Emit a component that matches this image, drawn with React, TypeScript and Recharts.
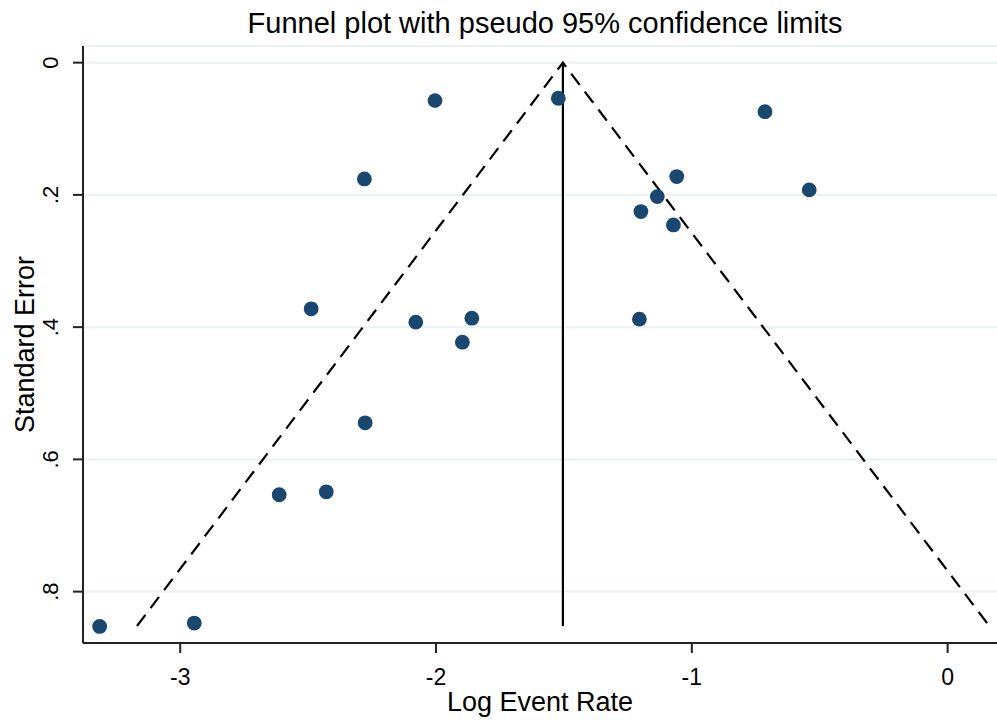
import React from "react";
import {
  ScatterChart,
  Scatter,
  XAxis,
  YAxis,
  CartesianGrid,
  Label,
} from "recharts";

// study estimates: log event rate vs standard error
const logRate = [
  -3.315, -2.945, -2.613, -2.429, -2.277, -2.488, -2.28, -2.004, -1.522, -2.079,
  -1.86, -1.897, -1.205, -1.199, -1.135, -1.072, -1.059, -0.714, -0.541,
];
const stdErr = [
  0.8526, 0.8475, 0.6535, 0.649, 0.5447, 0.3723, 0.1758, 0.0574, 0.0538, 0.3924,
  0.3864, 0.4227, 0.3879, 0.2252, 0.2026, 0.2454, 0.1723, 0.0741, 0.1924,
];

// pooled estimate and pseudo 95% limits at max SE
const pooled = -1.504;
const maxSe = 0.852;
const lowerLimit = -3.169;
const upperLimit = 0.163;

const xTicks = [-3, -2, -1, 0];
const yTicks = [0, 0.2, 0.4, 0.6, 0.8];

const studies = logRate.map((x, i) => ({ x, y: stdErr[i] }));
const pooledLine = [
  { x: pooled, y: 0 },
  { x: pooled, y: maxSe },
];
const funnelLine = [
  { x: lowerLimit, y: maxSe },
  { x: pooled, y: 0 },
  { x: upperLimit, y: maxSe },
];

const FONT = "'Liberation Sans', Arial, sans-serif";

const fmtY = (v: number) => (v === 0 ? "0" : String(v).replace(/^0/, ""));

const YTick = (props: any) => {
  const { x, y, payload } = props;
  return (
    <text
      x={x}
      y={y}
      transform={`rotate(-90 ${x} ${y})`}
      textAnchor="middle"
      fontSize={22}
      fontFamily={FONT}
      fill="#000"
    >
      {fmtY(payload.value)}
    </text>
  );
};

const noDot = () => <g />;

export default function App() {
  return (
    <div style={{ position: "absolute", left: 0, top: 0, background: "#fff" }}>
      <div
        style={{
          position: "absolute",
          left: 0,
          top: 8,
          width: 1090,
          textAlign: "center",
          fontFamily: FONT,
          fontSize: 29,
          color: "#000",
          lineHeight: "30px",
        }}
      >
        Funnel plot with pseudo 95% confidence limits
      </div>
      <ScatterChart
        width={997}
        height={720}
        margin={{ top: 46, right: 0, bottom: 0, left: 0 }}
      >
        <CartesianGrid
          horizontal
          vertical={false}
          stroke="#eaf2f3"
          strokeWidth={2}
        />
        <XAxis
          type="number"
          dataKey="x"
          domain={[-3.38, 0.193]}
          ticks={xTicks}
          allowDataOverflow
          height={77}
          tickSize={10}
          tickMargin={16}
          stroke="#222"
          strokeWidth={2}
          tick={{ fontSize: 23, fontFamily: FONT, fill: "#000" }}
        >
          <Label
            value="Log Event Rate"
            position="insideBottom"
            offset={9}
            style={{ fontSize: 27, fontFamily: FONT, fill: "#000" }}
          />
        </XAxis>
        <YAxis
          type="number"
          dataKey="y"
          reversed
          domain={[-0.0252, 0.8777]}
          ticks={yTicks}
          allowDataOverflow
          width={83}
          tickSize={10}
          tickMargin={15}
          stroke="#222"
          strokeWidth={2}
          tick={<YTick />}
        >
          <Label
            content={(p: any) => {
              const vb = p.viewBox || {};
              const cy = (vb.y || 46) + (vb.height || 597) / 2;
              const cx = 34;
              return (
                <text
                  x={cx}
                  y={cy}
                  transform={`rotate(-90 ${cx} ${cy})`}
                  textAnchor="middle"
                  fontSize={27}
                  fontFamily={FONT}
                  fill="#000"
                >
                  Standard Error
                </text>
              );
            }}
          />
        </YAxis>
        <Scatter
          data={funnelLine}
          line={{ stroke: "#000", strokeWidth: 2.2, strokeDasharray: "14 8.5" }}
          shape={noDot}
          isAnimationActive={false}
        />
        <Scatter
          data={pooledLine}
          line={{ stroke: "#000", strokeWidth: 2.2 }}
          shape={noDot}
          isAnimationActive={false}
        />
        <Scatter
          data={studies}
          fill="#1a476f"
          shape={(p: any) => (
            <circle cx={p.cx} cy={p.cy} r={7.4} fill="#1a476f" />
          )}
          isAnimationActive={false}
        />
      </ScatterChart>
    </div>
  );
}
